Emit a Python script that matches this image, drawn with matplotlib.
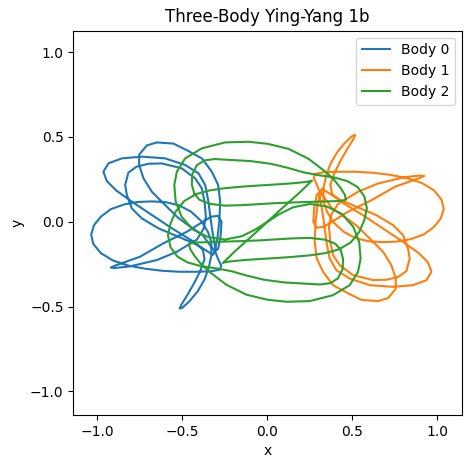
import numpy as np
import matplotlib
matplotlib.use("Agg")
import matplotlib.pyplot as plt

# positions (x, y)
body0 = [
    (-0.31, -0.17), (-0.29, -0.22), (-0.272, -0.258), (-0.28, -0.282), (-0.33, -0.292),
    (-0.42, -0.295), (-0.52, -0.295), (-0.62, -0.289), (-0.72, -0.277), (-0.82, -0.258),
    (-0.91, -0.228), (-0.98, -0.185), (-1.025, -0.13), (-1.037, -0.075), (-1.02, -0.02),
    (-0.98, 0.03), (-0.92, 0.075), (-0.84, 0.103), (-0.76, 0.117), (-0.68, 0.12),
    (-0.6, 0.116), (-0.52, 0.097), (-0.45, 0.06), (-0.39, 0.005), (-0.35, -0.06),
    (-0.33, -0.12), (-0.33, -0.2), (-0.345, -0.27), (-0.37, -0.34), (-0.41, -0.41),
    (-0.46, -0.47), (-0.5, -0.507), (-0.516, -0.512), (-0.507, -0.49), (-0.47, -0.43),
    (-0.43, -0.36), (-0.395, -0.29), (-0.37, -0.22), (-0.38, -0.165), (-0.43, -0.12),
    (-0.56, -0.04), (-0.68, 0.04), (-0.8, 0.12), (-0.89, 0.185), (-0.945, 0.24),
    (-0.965, 0.295), (-0.935, 0.345), (-0.856, 0.374), (-0.739, 0.384), (-0.602, 0.374),
    (-0.484, 0.335), (-0.406, 0.286), (-0.366, 0.217), (-0.347, 0.118), (-0.335, 0.02),
    (-0.32, -0.08), (-0.305, -0.16), (-0.32, -0.195), (-0.36, -0.17), (-0.41, -0.138),
    (-0.524, -0.088), (-0.641, -0.039), (-0.739, 0.02), (-0.798, 0.079), (-0.827, 0.158),
    (-0.837, 0.217), (-0.818, 0.29), (-0.77, 0.325), (-0.7, 0.342), (-0.621, 0.344),
    (-0.504, 0.315), (-0.425, 0.256), (-0.386, 0.197), (-0.37, 0.118), (-0.362, 0.03),
    (-0.375, -0.04), (-0.415, -0.105), (-0.533, -0.177), (-0.651, -0.226), (-0.808, -0.263),
    (-0.9, -0.273), (-0.922, -0.27), (-0.9, -0.26), (-0.749, -0.206), (-0.612, -0.127),
    (-0.474, -0.059), (-0.396, -0.01), (-0.33, 0.03), (-0.29, 0.035), (-0.27, 0.0),
    (-0.275, -0.08), (-0.29, -0.16), (-0.31, -0.175), (-0.34, -0.135), (-0.38, -0.08),
    (-0.445, -0.035), (-0.524, 0.022), (-0.602, 0.099), (-0.68, 0.177), (-0.729, 0.256),
    (-0.755, 0.335), (-0.755, 0.395), (-0.71, 0.45), (-0.651, 0.468), (-0.553, 0.461),
    (-0.474, 0.422), (-0.386, 0.374), (-0.327, 0.295), (-0.29, 0.217), (-0.278, 0.118),
    (-0.283, 0.0), (-0.295, -0.1), (-0.31, -0.17),
]

body1 = [
    (0.31, 0.17), (0.29, 0.22), (0.272, 0.258), (0.28, 0.282), (0.33, 0.292),
    (0.42, 0.295), (0.52, 0.295), (0.62, 0.289), (0.72, 0.277), (0.82, 0.258),
    (0.91, 0.228), (0.98, 0.185), (1.025, 0.13), (1.037, 0.075), (1.02, 0.02),
    (0.98, -0.03), (0.92, -0.075), (0.84, -0.103), (0.76, -0.117), (0.68, -0.12),
    (0.6, -0.116), (0.52, -0.097), (0.45, -0.06), (0.39, -0.005), (0.35, 0.06),
    (0.33, 0.12), (0.33, 0.2), (0.345, 0.27), (0.37, 0.34), (0.41, 0.41),
    (0.46, 0.47), (0.5, 0.507), (0.516, 0.512), (0.507, 0.49), (0.47, 0.43),
    (0.43, 0.36), (0.395, 0.29), (0.37, 0.22), (0.38, 0.165), (0.43, 0.12),
    (0.56, 0.04), (0.68, -0.04), (0.8, -0.12), (0.89, -0.185), (0.945, -0.24),
    (0.965, -0.295), (0.935, -0.345), (0.856, -0.374), (0.739, -0.384), (0.602, -0.374),
    (0.484, -0.335), (0.406, -0.286), (0.366, -0.217), (0.347, -0.118), (0.335, -0.02),
    (0.32, 0.08), (0.305, 0.16), (0.32, 0.195), (0.36, 0.17), (0.41, 0.138),
    (0.524, 0.088), (0.641, 0.039), (0.739, -0.02), (0.798, -0.079), (0.827, -0.158),
    (0.837, -0.217), (0.818, -0.29), (0.77, -0.325), (0.7, -0.342), (0.621, -0.344),
    (0.504, -0.315), (0.425, -0.256), (0.386, -0.197), (0.37, -0.118), (0.362, -0.03),
    (0.375, 0.04), (0.415, 0.105), (0.533, 0.177), (0.651, 0.226), (0.808, 0.263),
    (0.9, 0.273), (0.922, 0.27), (0.9, 0.26), (0.749, 0.206), (0.612, 0.127),
    (0.474, 0.059), (0.396, 0.01), (0.33, -0.03), (0.29, -0.035), (0.27, 0.0),
    (0.275, 0.08), (0.29, 0.16), (0.31, 0.175), (0.34, 0.135), (0.38, 0.08),
    (0.445, 0.035), (0.524, -0.022), (0.602, -0.099), (0.68, -0.177), (0.729, -0.256),
    (0.755, -0.335), (0.755, -0.395), (0.71, -0.45), (0.651, -0.468), (0.553, -0.461),
    (0.474, -0.422), (0.386, -0.374), (0.327, -0.295), (0.29, -0.217), (0.278, -0.118),
    (0.283, 0.0), (0.295, 0.1), (0.31, 0.17),
]

body2 = [
    (0.0, 0.0), (-0.07, -0.065), (-0.14, -0.128), (-0.2, -0.182), (-0.24, -0.222),
    (-0.262, -0.243), (-0.255, -0.24), (-0.22, -0.234), (-0.15, -0.227), (-0.05, -0.22),
    (0.05, -0.214), (0.15, -0.207), (0.25, -0.198), (0.34, -0.185), (0.42, -0.163),
    (0.49, -0.122), (0.54, -0.06), (0.57, 0.01), (0.585, 0.08), (0.57, 0.15),
    (0.53, 0.205), (0.47, 0.24), (0.39, 0.262), (0.3, 0.275), (0.21, 0.292),
    (0.12, 0.318), (0.02, 0.342), (-0.1, 0.358), (-0.22, 0.365), (-0.31, 0.37),
    (-0.37, 0.362), (-0.415, 0.334), (-0.442, 0.28), (-0.445, 0.22), (-0.43, 0.165),
    (-0.4, 0.13), (-0.34, 0.106), (-0.25, 0.095), (-0.15, 0.098), (-0.05, 0.104),
    (0.05, 0.11), (0.15, 0.114), (0.25, 0.117), (0.34, 0.12), (0.41, 0.122),
    (0.445, 0.125), (0.462, 0.132), (0.455, 0.16), (0.43, 0.2), (0.39, 0.25),
    (0.339, 0.297), (0.241, 0.372), (0.124, 0.43), (0.0, 0.46), (-0.112, 0.472),
    (-0.249, 0.468), (-0.386, 0.433), (-0.484, 0.374), (-0.533, 0.295), (-0.548, 0.217),
    (-0.54, 0.12), (-0.505, 0.03), (-0.44, -0.045), (-0.35, -0.09), (-0.25, -0.105),
    (-0.15, -0.085), (-0.07, -0.045), (0.0, 0.0), (0.07, 0.045), (0.15, 0.085),
    (0.25, 0.105), (0.35, 0.09), (0.44, 0.045), (0.505, -0.03), (0.54, -0.12),
    (0.548, -0.217), (0.533, -0.295), (0.484, -0.374), (0.386, -0.433), (0.249, -0.468),
    (0.112, -0.472), (0.0, -0.46), (-0.124, -0.43), (-0.241, -0.372), (-0.339, -0.297),
    (-0.39, -0.25), (-0.43, -0.2), (-0.455, -0.16), (-0.462, -0.132), (-0.445, -0.125),
    (-0.41, -0.122), (-0.34, -0.12), (-0.25, -0.117), (-0.15, -0.114), (-0.05, -0.11),
    (0.05, -0.104), (0.15, -0.098), (0.25, -0.095), (0.34, -0.106), (0.4, -0.13),
    (0.43, -0.165), (0.445, -0.22), (0.442, -0.28), (0.415, -0.334), (0.37, -0.362),
    (0.31, -0.37), (0.22, -0.365), (0.1, -0.358), (-0.02, -0.342), (-0.12, -0.318),
    (-0.21, -0.292), (-0.3, -0.275), (-0.39, -0.262), (-0.47, -0.24), (-0.53, -0.205),
    (-0.57, -0.15), (-0.585, -0.08), (-0.57, -0.01), (-0.54, 0.06), (-0.49, 0.122),
    (-0.42, 0.163), (-0.34, 0.185), (-0.25, 0.198), (-0.15, 0.207), (-0.05, 0.214),
    (0.05, 0.22), (0.15, 0.227), (0.22, 0.234), (0.255, 0.24), (0.262, 0.243),
    (0.24, 0.222), (0.2, 0.182), (0.14, 0.128), (0.07, 0.065), (0.0, 0.0),
]

bodies = [body0, body1, body2]
labels = ["Body 0", "Body 1", "Body 2"]

fig = plt.figure(figsize=(4.7, 4.68), dpi=100)
ax = fig.add_axes([0.156, 0.1132, 0.8264, 0.8212])

for pts, lab in zip(bodies, labels):
    arr = np.array(pts)
    ax.plot(arr[:, 0], arr[:, 1], label=lab)

ax.set_xlim(-1.142, 1.143)
ax.set_ylim(-1.14, 1.127)
ax.set_xticks([-1.0, -0.5, 0.0, 0.5, 1.0])
ax.set_yticks([-1.0, -0.5, 0.0, 0.5, 1.0])
ax.set_title("Three-Body Ying-Yang 1b")
ax.set_xlabel("x")
ax.set_ylabel("y")
ax.legend(loc="upper right")

fig.savefig("out.png", dpi=100)
